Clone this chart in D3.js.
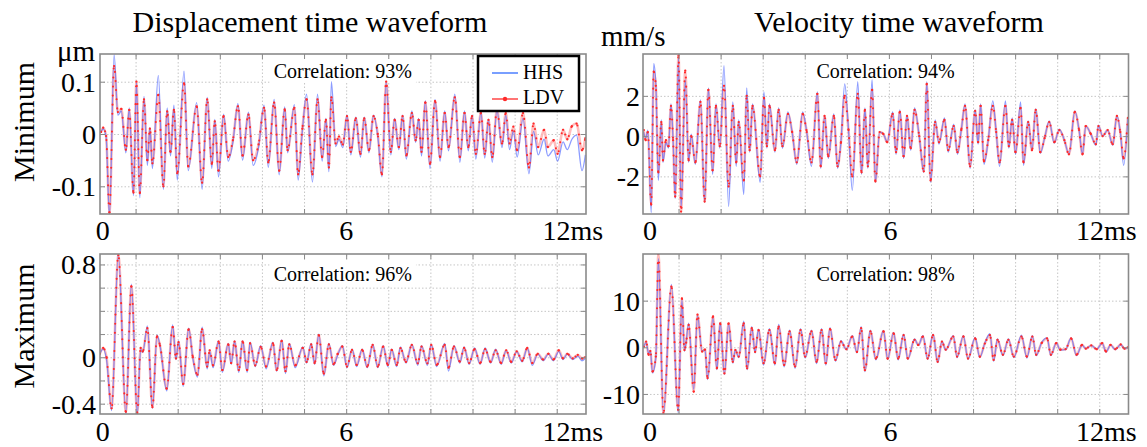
<!DOCTYPE html>
<html><head><meta charset="utf-8">
<script src="https://cdn.jsdelivr.net/npm/d3@7/dist/d3.min.js"></script>
<style>
body{margin:0;background:#fff}
svg{display:block}
text{font-family:"Liberation Serif","Times New Roman",serif;fill:#000}
</style>
</head><body>
<svg id="chart" width="1147" height="447"></svg>
<script>
// ---------- text / categories ----------
const columnTitles = ["Displacement time waveform", "Velocity time waveform"];
const rowLabels = ["Minimum", "Maximum"];
const unitLabels = ["μm", "mm/s"];
const xTickLabels = ["0", "6", "12ms"];
const seriesNames = ["HHS", "LDV"];
const correlations = ["Correlation: 93%", "Correlation: 94%", "Correlation: 96%", "Correlation: 98%"];

// ---------- axes (ms) ----------
const xDomain = [0.155, 11.695];
const xGridValues = [1, 2, 3, 4, 5, 6, 7, 8, 9, 10, 11];

const tlYDomain = [-0.153, 0.153];
const tlYGrid = [-0.1, 0, 0.1];
const tlYTicks = [0.1, 0, -0.1];
const tlYTickLabels = ["0.1", "0", "-0.1"];

const trYDomain = [-3.87, 4.08];
const trYGrid = [-2, 0, 2];
const trYTicks = [2, 0, -2];
const trYTickLabels = ["2", "0", "-2"];

const blYDomain = [-0.489, 0.89];
const blYGrid = [-0.4, -0.2, 0, 0.2, 0.4, 0.6, 0.8];
const blYTicks = [0.8, 0, -0.4];
const blYTickLabels = ["0.8", "0", "-0.4"];

const brYDomain = [-14.3, 20];
const brYGrid = [-10, 0, 10];
const brYTicks = [10, 0, -10];
const brYTickLabels = ["10", "0", "-10"];

// ---------- Displacement, Minimum (μm) ----------
const tlTime = [
0.18,0.23,0.30,0.38,0.49,0.58,0.66,0.77,0.85,0.95,
1.02,1.10,1.20,1.28,1.34,1.40,1.54,1.66,1.75,1.83,
1.91,1.99,2.15,2.25,2.45,2.58,2.70,2.81,2.88,2.97,
3.09,3.20,3.31,3.43,3.54,3.68,3.79,3.92,4.05,4.15,
4.29,4.41,4.54,4.61,4.77,4.86,4.96,5.06,5.20,5.32,
5.43,5.52,5.59,5.65,5.75,5.83,5.92,6.02,6.11,6.23,
6.34,6.43,6.54,6.65,6.75,6.85,6.95,7.06,7.15,7.25,
7.34,7.43,7.56,7.65,7.72,7.79,7.88,7.99,8.11,8.23,
8.34,8.43,8.58,8.70,8.81,8.90,8.99,9.08,9.20,9.29,
9.38,9.47,9.58,9.70,9.79,9.88,9.97,10.06,10.20,10.34,
10.45,10.56,10.70,10.79,10.93,11.02,11.15,11.25,11.36,11.47,
11.60,11.68];
const tlLDV = [
0.004,0.012,-0.004,-0.150,0.130,0.042,0.048,-0.030,0.046,-0.112,
0.100,-0.113,0.066,-0.050,0.010,-0.056,0.075,-0.100,0.043,-0.034,
0.046,-0.075,0.097,-0.062,0.053,-0.093,0.066,-0.057,0.024,-0.070,
0.034,-0.044,-0.012,0.053,-0.041,0.037,-0.050,-0.020,0.050,-0.054,
0.060,-0.070,0.047,-0.031,0.050,-0.077,0.010,0.066,-0.077,0.066,
-0.044,0.027,-0.064,0.070,-0.018,-0.005,-0.020,0.034,-0.034,0.030,
-0.038,0.030,-0.031,0.034,0.000,-0.077,0.100,-0.034,0.027,-0.025,
0.034,-0.041,0.040,-0.012,0.027,-0.034,0.060,-0.057,0.063,-0.044,
0.040,-0.025,0.070,-0.044,0.040,-0.025,0.034,-0.038,0.040,-0.038,
0.027,-0.044,0.047,-0.018,0.040,-0.018,0.014,-0.031,0.040,-0.064,
0.020,-0.025,0.008,-0.025,-0.012,-0.038,0.008,-0.010,0.015,0.020,
-0.031,-0.008];
const tlHHS = [
0.004,0.010,-0.006,-0.158,0.152,0.036,0.044,-0.036,0.050,-0.118,
0.098,-0.122,0.072,-0.060,0.012,-0.066,0.112,-0.106,0.050,-0.042,
0.055,-0.088,0.120,-0.070,0.060,-0.106,0.070,-0.066,0.028,-0.082,
0.038,-0.052,-0.016,0.058,-0.050,0.042,-0.060,-0.026,0.055,-0.064,
0.066,-0.078,0.052,-0.036,0.056,-0.088,0.006,0.076,-0.092,0.076,
-0.052,0.030,-0.072,0.100,-0.024,-0.010,-0.026,0.036,-0.040,0.032,
-0.044,0.032,-0.036,0.036,-0.004,-0.082,0.100,-0.040,0.030,-0.030,
0.036,-0.048,0.044,-0.016,0.030,-0.042,0.064,-0.066,0.066,-0.052,
0.044,-0.032,0.076,-0.054,0.044,-0.032,0.036,-0.048,0.042,-0.046,
0.028,-0.054,0.046,-0.026,0.036,-0.030,0.006,-0.044,0.030,-0.076,
0.005,-0.040,-0.010,-0.042,-0.030,-0.052,-0.015,-0.030,-0.010,-0.002,
-0.070,-0.040];

// ---------- Velocity, Minimum (mm/s) ----------
const trTime = [
0.17,0.22,0.27,0.35,0.41,0.46,0.52,0.59,0.63,0.70,
0.76,0.82,0.87,0.92,1.00,1.06,1.16,1.24,1.30,1.40,
1.52,1.62,1.71,1.81,1.89,1.98,2.08,2.19,2.29,2.37,
2.43,2.55,2.62,2.69,2.76,2.94,3.03,3.10,3.16,3.29,
3.38,3.47,3.60,3.70,3.81,3.95,4.04,4.16,4.30,4.38,
4.47,4.56,4.69,4.78,4.86,4.95,5.04,5.13,5.26,5.35,
5.43,5.50,5.60,5.68,5.78,5.87,5.96,6.09,6.17,6.26,
6.35,6.43,6.52,6.61,6.72,6.83,6.90,6.99,7.10,7.19,
7.32,7.41,7.54,7.63,7.72,7.81,7.93,8.05,8.12,8.18,
8.26,8.36,8.47,8.55,8.63,8.77,8.85,8.93,9.01,9.13,
9.20,9.31,9.40,9.49,9.60,9.70,9.81,9.93,10.05,10.17,
10.28,10.42,10.52,10.60,10.68,10.80,10.92,10.98,11.08,11.20,
11.32,11.42,11.50,11.58,11.68];
const trLDV = [
0.3,-0.2,0.2,-3.4,3.2,2.5,-1.8,0.7,-1.2,-0.2,
-0.5,1.5,-0.2,-3.0,4.0,-3.75,3.25,-1.2,0.0,-1.3,
1.7,-3.25,2.3,-1.7,1.5,-0.5,2.5,-2.5,1.5,-1.3,
0.7,-2.2,2.0,-0.7,1.5,-2.0,1.9,-0.5,1.5,-0.7,
1.3,-0.5,1.1,0.2,-1.3,1.1,0.3,-1.3,2.1,-1.5,
1.0,-1.0,1.0,-1.5,-0.3,2.0,0.3,-2.0,2.1,-1.8,
1.3,-1.5,2.3,-2.25,0.2,0.1,-0.3,1.1,-0.8,1.2,
-1.0,1.0,-0.6,1.3,0.0,-1.75,2.6,-2.2,0.7,-0.3,
0.8,-0.7,0.5,-0.8,0.3,1.5,-1.5,1.25,-0.3,1.5,
-1.25,-0.2,1.5,0.2,-1.3,1.5,-0.5,0.8,-0.8,1.4,
-1.3,0.7,-0.7,1.3,-0.8,-0.1,0.7,-0.3,0.3,-0.2,
-0.9,1.2,0.3,-0.9,0.5,0.1,-0.4,0.5,0.0,0.3,
-0.4,1.0,0.2,-1.1,0.9];
const trHHS = [
0.2,-0.1,0.3,-3.8,3.6,2.6,-2.2,0.8,-1.3,-0.3,
-0.6,1.6,-0.2,-3.1,3.9,-3.6,2.8,-1.3,0.1,-1.4,
1.8,-3.3,2.4,-1.9,1.6,-0.6,3.5,-3.5,1.7,-1.5,
0.8,-2.9,2.4,-0.8,1.6,-2.3,2.2,-0.6,1.6,-0.8,
1.4,-0.6,1.2,0.2,-1.4,1.2,0.3,-1.5,2.2,-1.6,
1.0,-1.1,1.1,-1.6,-0.3,2.6,0.3,-2.7,2.7,-1.9,
1.4,-1.6,2.8,-2.3,0.2,0.1,-0.3,1.2,-0.9,1.3,
-1.1,1.0,-0.7,1.4,0.0,-1.8,2.7,-2.3,0.8,-0.4,
0.9,-0.8,0.6,-0.9,0.3,1.6,-1.6,1.3,-0.4,1.6,
-1.4,-0.2,1.75,0.2,-1.5,1.75,-0.6,0.9,-0.9,1.7,
-1.45,0.75,-0.7,1.35,-0.85,-0.1,0.75,-0.35,0.35,-0.2,
-0.9,1.25,0.3,-0.9,0.5,0.1,-0.45,0.55,0.0,0.3,
-0.45,1.0,0.2,-1.45,0.9];

// ---------- Displacement, Maximum (μm) ----------
const blTime = [
0.15,0.23,0.31,0.43,0.59,0.77,0.90,1.04,1.12,1.17,
1.28,1.40,1.51,1.58,1.74,1.88,1.96,2.02,2.13,2.26,
2.36,2.47,2.58,2.70,2.76,2.84,2.97,3.06,3.20,3.27,
3.35,3.45,3.54,3.65,3.72,3.84,3.97,4.10,4.26,4.35,
4.47,4.56,4.65,4.79,4.97,5.06,5.17,5.25,5.35,5.47,
5.59,5.70,5.80,5.91,6.02,6.14,6.25,6.38,6.50,6.63,
6.75,6.88,6.99,7.08,7.20,7.29,7.42,7.56,7.70,7.79,
7.93,8.02,8.15,8.34,8.43,8.56,8.70,8.80,8.92,9.05,
9.18,9.30,9.43,9.55,9.68,9.80,9.92,10.05,10.18,10.30,
10.42,10.55,10.68,10.80,10.92,11.05,11.15,11.25,11.38,11.50,
11.60,11.68];
const blLDV = [
0.03,0.08,0.00,-0.44,0.88,-0.47,0.61,-0.48,0.08,0.05,
0.25,-0.43,0.18,0.10,-0.27,0.26,-0.01,0.13,-0.23,0.24,
0.00,-0.15,0.24,-0.08,0.06,-0.07,0.135,-0.11,0.11,-0.05,
0.135,-0.11,0.135,-0.11,0.12,-0.07,0.09,-0.08,0.12,-0.11,
0.14,-0.12,0.11,-0.07,0.08,-0.04,0.11,-0.05,0.19,-0.14,
0.11,-0.06,0.03,0.092,-0.08,0.063,-0.066,0.063,-0.08,0.106,
-0.08,0.092,-0.066,0.063,-0.066,0.078,-0.04,0.106,-0.052,0.092,
-0.052,0.106,-0.066,0.106,-0.09,0.092,-0.037,0.08,-0.05,0.07,
-0.05,0.07,-0.04,0.06,-0.05,0.06,-0.04,0.05,-0.03,0.08,
-0.05,0.03,-0.02,0.03,-0.02,0.06,-0.01,0.03,-0.01,0.02,
-0.01,0.00];
const blHHS = [
0.03,0.07,-0.02,-0.46,0.89,-0.49,0.63,-0.50,0.07,0.04,
0.27,-0.44,0.19,0.10,-0.29,0.28,-0.02,0.14,-0.25,0.25,
-0.01,-0.17,0.26,-0.10,0.05,-0.09,0.14,-0.13,0.12,-0.06,
0.14,-0.13,0.14,-0.13,0.13,-0.08,0.10,-0.10,0.13,-0.12,
0.15,-0.14,0.12,-0.09,0.09,-0.05,0.12,-0.06,0.20,-0.16,
0.12,-0.07,0.02,0.10,-0.09,0.07,-0.08,0.07,-0.09,0.11,
-0.09,0.10,-0.08,0.07,-0.08,0.09,-0.05,0.11,-0.07,0.10,
-0.07,0.11,-0.08,0.12,-0.12,0.10,-0.05,0.09,-0.06,0.08,
-0.06,0.08,-0.05,0.07,-0.06,0.06,-0.05,0.05,-0.04,0.08,
-0.07,0.03,-0.03,0.03,-0.03,0.05,-0.02,0.03,-0.02,0.01,
-0.03,-0.01];

// ---------- Velocity, Maximum (mm/s) ----------
const brTime = [
0.17,0.23,0.29,0.33,0.38,0.46,0.52,0.64,0.83,0.99,
1.08,1.14,1.18,1.24,1.36,1.45,1.56,1.63,1.69,1.82,
1.91,1.99,2.09,2.19,2.29,2.35,2.43,2.55,2.63,2.74,
2.82,2.90,3.02,3.16,3.29,3.38,3.51,3.64,3.77,3.90,
4.01,4.16,4.28,4.40,4.50,4.60,4.73,4.86,4.99,5.13,
5.24,5.34,5.43,5.56,5.69,5.87,5.97,6.11,6.22,6.35,
6.45,6.61,6.70,6.81,6.92,7.05,7.16,7.26,7.35,7.53,
7.62,7.77,7.88,8.05,8.16,8.28,8.40,8.49,8.58,8.71,
8.84,8.97,9.15,9.28,9.41,9.50,9.63,9.76,9.85,9.98,
10.07,10.20,10.33,10.46,10.59,10.68,10.81,10.94,11.07,11.16,
11.27,11.38,11.51,11.60,11.68];
const brLDV = [
0.1,1.2,-1.6,-0.8,-5.2,-2.0,20.0,-14.1,13.0,-13.4,
10.5,-0.6,1.0,4.8,-9.5,7.0,-0.9,-0.5,-6.6,6.6,
-4.5,5.1,-5.6,5.1,-3.1,-0.6,-2.0,5.1,-4.5,4.1,
-1.0,3.7,-3.4,3.7,-3.4,4.4,-3.8,3.4,-4.1,3.7,
-2.0,3.4,-3.1,3.7,-3.4,3.9,-2.7,1.2,-0.4,2.3,
-1.0,4.1,-4.9,3.4,-2.4,3.4,-2.4,3.0,-2.4,2.6,
-2.4,1.6,0.5,2.3,-2.4,2.6,-3.1,1.2,-0.5,2.3,
-2.0,2.3,-2.4,1.9,-2.0,0.8,2.6,-2.7,1.6,-1.6,
1.6,-2.0,2.3,-2.0,2.3,-1.6,0.9,1.9,-1.6,0.9,
-0.5,-0.4,1.9,-1.6,0.5,-0.3,0.4,-0.4,0.9,-0.9,
0.5,-0.4,0.6,-0.3,0.0];
const brHHS = [
0.1,1.0,-1.4,-0.6,-5.5,-2.2,19.0,-14.3,13.5,-14.0,
10.2,-0.8,1.2,5.2,-9.0,6.8,-0.8,-0.6,-6.9,6.4,
-4.8,5.3,-5.8,5.0,-3.4,-0.5,-2.2,5.6,-4.8,4.4,
-1.2,3.9,-3.8,4.0,-3.8,4.9,-4.2,3.7,-4.5,4.0,
-2.3,3.7,-3.5,4.0,-3.8,4.2,-3.0,1.4,-0.5,2.5,
-1.2,4.4,-5.2,3.7,-2.7,3.6,-2.6,3.2,-2.7,2.8,
-2.6,1.8,0.4,2.5,-2.6,2.8,-3.3,1.3,-0.6,2.5,
-2.2,2.5,-2.6,2.1,-2.2,0.9,2.9,-3.0,1.8,-1.8,
1.8,-2.2,2.6,-2.3,2.5,-1.8,1.0,2.0,-1.8,1.0,
-0.6,-0.5,2.0,-1.8,0.5,-0.3,0.4,-0.4,0.9,-1.0,
0.5,-0.5,0.6,-0.3,0.0];

// ---------- drawing ----------
const svg = d3.select("#chart");
const colX = [[100, 586], [643, 1128.5]];
const rowY = [[54, 214], [254, 414]];
const colors = {hhs: "#4660ff", ldvLine: "#ffb2b2", ldvDot: "#ff2a2a", frame: "#8a8a8a", grid: "#c6c6c6", legendBlue: "#4d7fff"};
const xLabelPos = [[0.22, 6.0, 11.38], [0.32, 6.04, 11.17]];
const xLabelBase = [240, 441];

const panels = [
  {col:0,row:0,time:tlTime,ldv:tlLDV,hhs:tlHHS,yDomain:tlYDomain,grid:tlYGrid,ticks:tlYTicks,tickLabels:tlYTickLabels,corr:correlations[0]},
  {col:1,row:0,time:trTime,ldv:trLDV,hhs:trHHS,yDomain:trYDomain,grid:trYGrid,ticks:trYTicks,tickLabels:trYTickLabels,corr:correlations[1]},
  {col:0,row:1,time:blTime,ldv:blLDV,hhs:blHHS,yDomain:blYDomain,grid:blYGrid,ticks:blYTicks,tickLabels:blYTickLabels,corr:correlations[2]},
  {col:1,row:1,time:brTime,ldv:brLDV,hhs:brHHS,yDomain:brYDomain,grid:brYGrid,ticks:brYTicks,tickLabels:brYTickLabels,corr:correlations[3]}
];

const defs = svg.append("defs");

panels.forEach((p, pi) => {
  const [x0, x1] = colX[p.col], [y0, y1] = rowY[p.row];
  const x = d3.scaleLinear().domain(xDomain).range([x0, x1]);
  const y = d3.scaleLinear().domain(p.yDomain).range([y1, y0]);
  const g = svg.append("g");

  // grid lines
  const gridStyle = s => { s.select(".domain").remove();
    s.selectAll("line").attr("stroke", colors.grid).attr("stroke-width", 1).attr("stroke-dasharray", "1.5,2"); };
  g.append("g").attr("transform", `translate(0,${y1})`)
    .call(d3.axisBottom(x).tickValues(xGridValues).tickSize(-(y1 - y0)).tickFormat("")).call(gridStyle);
  g.append("g").attr("transform", `translate(${x0},0)`)
    .call(d3.axisLeft(y).tickValues(p.grid).tickSize(-(x1 - x0)).tickFormat("")).call(gridStyle);

  // correlation label with white box
  const cx = x(5.92), cy = p.row === 0 ? 78 : 281;
  const cbox = g.append("rect").attr("fill", "#fff");
  const ct = g.append("text").attr("x", cx).attr("y", cy).attr("text-anchor", "middle")
    .attr("font-size", 20).text(p.corr);
  const bb = ct.node().getBBox();
  cbox.attr("x", bb.x - 4).attr("y", bb.y - 1).attr("width", bb.width + 8).attr("height", bb.height + 2);
  ct.raise();

  // clip
  const cid = "clip" + pi;
  defs.append("clipPath").attr("id", cid).append("rect")
    .attr("x", x0).attr("y", y0).attr("width", x1 - x0).attr("height", y1 - y0);
  const plot = g.append("g").attr("clip-path", `url(#${cid})`);

  const idx = d3.range(Math.min(p.time.length, p.ldv.length, p.hhs.length));
  const lineH = d3.line().curve(d3.curveMonotoneX).x(i => x(p.time[i])).y(i => y(p.hhs[i]));
  const lineL = d3.line().curve(d3.curveMonotoneX).x(i => x(p.time[i])).y(i => y(p.ldv[i]));

  // LDV: light pink band
  plot.append("path").attr("d", lineL(idx)).attr("fill", "none")
    .attr("stroke", colors.ldvLine).attr("stroke-width", 2.6).attr("stroke-opacity", 0.85)
    .attr("stroke-linejoin", "round");
  // HHS: blue line
  plot.append("path").attr("d", lineH(idx)).attr("fill", "none")
    .attr("stroke", colors.hhs).attr("stroke-width", 1.3).attr("stroke-opacity", 0.62)
    .attr("stroke-linejoin", "round");
  // LDV sample markers rendered as a dotted stroke along the LDV line
  plot.append("path").attr("d", lineL(idx)).attr("fill", "none")
    .attr("stroke", colors.ldvDot).attr("stroke-width", 2.1).attr("stroke-linecap", "round")
    .attr("stroke-dasharray", "0 9");
  plot.selectAll("circle").data(idx).join("circle")
    .attr("cx", i => x(p.time[i])).attr("cy", i => y(p.ldv[i])).attr("r", 1.15)
    .attr("fill", colors.ldvDot);

  // inner tick marks (MATLAB style)
  const tickStyle = s => { s.select(".domain").remove();
    s.selectAll("line").attr("stroke", colors.frame).attr("stroke-width", 1); };
  g.append("g").attr("transform", `translate(0,${y1})`)
    .call(d3.axisBottom(x).tickValues(xGridValues).tickSize(-5).tickFormat("")).call(tickStyle);
  g.append("g").attr("transform", `translate(0,${y0})`)
    .call(d3.axisTop(x).tickValues(xGridValues).tickSize(-5).tickFormat("")).call(tickStyle);
  g.append("g").attr("transform", `translate(${x0},0)`)
    .call(d3.axisLeft(y).tickValues(p.grid).tickSize(-5).tickFormat("")).call(tickStyle);
  g.append("g").attr("transform", `translate(${x1},0)`)
    .call(d3.axisRight(y).tickValues(p.grid).tickSize(-5).tickFormat("")).call(tickStyle);

  // frame
  g.append("rect").attr("x", x0).attr("y", y0).attr("width", x1 - x0).attr("height", y1 - y0)
    .attr("fill", "none").attr("stroke", colors.frame).attr("stroke-width", 1.6);

  // y tick labels
  const yLabX = p.col === 0 ? x0 - 4 : x0 - 3;
  g.selectAll(".ytl").data(p.ticks).join("text")
    .attr("x", yLabX).attr("y", v => y(v) + 10).attr("text-anchor", "end")
    .attr("font-size", 28).text((v, i) => p.tickLabels[i]);

  // x tick labels
  g.selectAll(".xtl").data(xTickLabels).join("text")
    .attr("x", (d, i) => x(xLabelPos[p.col][i])).attr("y", xLabelBase[p.row])
    .attr("text-anchor", "middle").attr("font-size", 28).text(d => d);

  // legend in the first panel
  if (pi === 0) {
    const lg = g.append("g");
    const lx = x1 - 108, ly = y0 + 2;
    lg.append("rect").attr("x", lx).attr("y", ly).attr("width", 101).attr("height", 55)
      .attr("fill", "#fff").attr("stroke", "#000").attr("stroke-width", 2.5);
    lg.append("line").attr("x1", lx + 14).attr("x2", lx + 40).attr("y1", ly + 17).attr("y2", ly + 17)
      .attr("stroke", colors.legendBlue).attr("stroke-width", 1.5);
    lg.append("line").attr("x1", lx + 14).attr("x2", lx + 40).attr("y1", ly + 43).attr("y2", ly + 43)
      .attr("stroke", colors.ldvDot).attr("stroke-width", 1.3);
    lg.append("circle").attr("cx", lx + 27).attr("cy", ly + 43).attr("r", 2.2).attr("fill", colors.ldvDot);
    lg.append("text").attr("x", lx + 45).attr("y", ly + 23).attr("font-size", 20).text(seriesNames[0]);
    lg.append("text").attr("x", lx + 45).attr("y", ly + 48).attr("font-size", 20).text(seriesNames[1]);
  }
});

// column titles
svg.selectAll(".ctitle").data(columnTitles).join("text")
  .attr("x", (d, i) => i === 0 ? 310 : 899).attr("y", 31.5)
  .attr("text-anchor", "middle").attr("font-size", 30).text(d => d);

// unit labels
svg.append("text").attr("x", 95).attr("y", 61).attr("text-anchor", "end").attr("font-size", 29).text(unitLabels[0]);
svg.append("text").attr("x", 601).attr("y", 46).attr("text-anchor", "start").attr("font-size", 29).text(unitLabels[1]);

// row labels
svg.selectAll(".rlabel").data(rowLabels).join("text")
  .attr("transform", (d, i) => `translate(34,${i === 0 ? 122 : 326}) rotate(-90)`)
  .attr("text-anchor", "middle").attr("font-size", 30).text(d => d);
</script>
</body></html>
